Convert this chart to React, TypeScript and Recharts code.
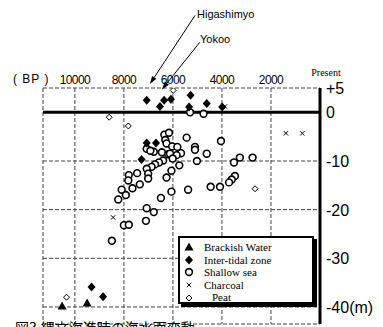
import { ScatterChart, Scatter, XAxis, YAxis, CartesianGrid, ReferenceLine, Legend } from 'recharts';

// years BP (x) and sea level in metres (y)
const ageTicks = [10000, 8000, 6000, 4000, 2000, 0];
const levelTicks = [5, 0, -10, -20, -30, -40];

const seriesNames = ['Brackish Water', 'Inter-tidal zone', 'Shallow sea', 'Charcoal', 'Peat'];

const brackishAge = [10520, 9500];
const brackishLevel = [-39.8, -39.2];

const tidalAge = [7070, 6360, 6080, 6530, 5280, 5340, 4620, 3990, 7070, 6690, 7280, 9320, 8850];
const tidalLevel = [2.5, 2.5, 2.7, 1.2, 3.5, 1.1, 1.8, 1.1, -6.3, -6.3, -9.7, -35.9, -37.9];

const shallowAge = [
  5300, 4750, 6350, 6160, 6310, 6260, 5440, 4040, 7070, 6780, 6450, 6030, 5820, 5670, 6190,
  5850, 5100, 5100, 4620, 5020, 5740, 6060, 6260, 6060, 5380, 6490, 6400, 6570, 6730, 6870,
  7070, 7010, 7010, 7460, 7800, 7820, 7350, 7650, 8090, 7920, 8230, 7070, 6780, 7100, 8000,
  7800, 8490, 3510, 3270, 2750, 3470, 3600, 3710, 4080, 4460, 6920, 6120, 6010,
];
const shallowLevel = [
  0, -0.3, -4.6, -4.2, -5.7, -6.4, -5.2, -5.9, -7.5, -8.1, -8.2, -7.0, -7.1, -8.4, -8.6,
  -8.8, -7.1, -7.7, -8.5, -10.0, -10.9, -12.0, -13.4, -16.3, -15.9, -17.6, -9.9, -10.3, -10.7, -11.2,
  -11.6, -12.6, -13.6, -12.5, -12.9, -14.0, -14.8, -15.6, -15.9, -17.0, -17.9, -19.7, -20.5, -22.3, -23.2,
  -23.1, -26.4, -10.3, -9.3, -9.3, -13.1, -13.8, -14.4, -15.3, -15.3, -7.9, -8.5, -9.5,
];

const charcoalAge = [3880, 1390, 720, 8440];
const charcoalLevel = [1.2, -4.3, -4.3, -21.6];

const peatAge = [10340, 8600, 7820, 2650, 5990];
const peatLevel = [-38.0, -1.0, -2.8, -15.7, 4.5];

// annotation arrows: [start, tip]
const higashimyoArrow = [{ x: 5100, y: 19.9 }, { x: 6940, y: 5.8 }];
const yokooArrow = [{ x: 4900, y: 14.4 }, { x: 6450, y: 4.7 }];

const toPoints = (ages: number[], levels: number[]) => ages.map((a, i) => ({ age: a, level: levels[i] }));

const brackish = toPoints(brackishAge, brackishLevel);
const tidal = toPoints(tidalAge, tidalLevel);
const shallow = toPoints(shallowAge, shallowLevel);
const charcoal = toPoints(charcoalAge, charcoalLevel);
const peat = toPoints(peatAge, peatLevel);

const drawMark = (kind: string, cx: number, cy: number) => {
  if (kind === 'triangle')
    return <polygon points={`${cx},${cy - 4.5} ${cx + 4.5},${cy + 3.5} ${cx - 4.5},${cy + 3.5}`} fill='#000' />;
  if (kind === 'diamond')
    return <polygon points={`${cx},${cy - 4.5} ${cx + 4},${cy} ${cx},${cy + 4.5} ${cx - 4},${cy}`} fill='#000' />;
  if (kind === 'circle') return <circle cx={cx} cy={cy} r={3.4} fill='#fff' stroke='#000' strokeWidth={1.6} />;
  if (kind === 'cross')
    return (
      <g stroke='#000' strokeWidth={1}>
        <line x1={cx - 2.2} y1={cy - 2.2} x2={cx + 2.2} y2={cy + 2.2} />
        <line x1={cx - 2.2} y1={cy + 2.2} x2={cx + 2.2} y2={cy - 2.2} />
      </g>
    );
  return (
    <polygon
      points={`${cx},${cy - 3} ${cx + 3},${cy} ${cx},${cy + 3} ${cx - 3},${cy}`}
      fill='#fff'
      stroke='#000'
      strokeWidth={1}
    />
  );
};

const markKinds = ['triangle', 'diamond', 'circle', 'cross', 'peat'];

const Arrow = (props: any) => {
  const { x1, y1, x2, y2 } = props;
  const ang = Math.atan2(y2 - y1, x2 - x1);
  const len = 8;
  const half = 2.6;
  const bx = x2 - len * Math.cos(ang);
  const by = y2 - len * Math.sin(ang);
  const px = -Math.sin(ang) * half;
  const py = Math.cos(ang) * half;
  return (
    <g>
      <line x1={x1} y1={y1} x2={bx} y2={by} stroke='#000' strokeWidth={1} />
      <polygon points={`${x2},${y2} ${bx + px},${by + py} ${bx - px},${by - py}`} fill='#000' />
    </g>
  );
};

const AgeTick = ({ x, y, payload }: any) => {
  if (payload.value === 0) {
    return (
      <text x={x + 6} y={y - 4} fontSize={10} fontFamily='Liberation Serif' textAnchor='middle' fill='#000'>
        Present
      </text>
    );
  }
  return (
    <text x={x} y={y + 4} fontSize={12} fontFamily='Liberation Sans' textAnchor='middle' fill='#000' letterSpacing={-0.6}>
      {payload.value}
    </text>
  );
};

const LevelTick = ({ x, y, payload }: any) => {
  const v = payload.value;
  const label = v > 0 ? `+${v}` : v === -40 ? '-40(m)' : `${v}`;
  return (
    <text x={x - 2} y={y + 6} fontSize={16} fontFamily='Liberation Sans' textAnchor='start' fill='#000'>
      {label}
    </text>
  );
};

const LegendBox = () => (
  <div
    style={{
      border: '2px solid #000',
      boxShadow: '3px 3px 0 #000',
      background: '#fff',
      width: 136,
      height: 68,
      boxSizing: 'border-box',
      padding: '3px 0 0 4px',
      fontFamily: 'Liberation Serif',
      fontSize: 11,
      lineHeight: '12.6px',
      color: '#000',
    }}
  >
    {seriesNames.map((name, i) => (
      <div key={name} style={{ display: 'flex', alignItems: 'center' }}>
        <svg width={10} height={10} style={{ marginRight: name === 'Peat' ? 18 : 10 }}>
          {drawMark(markKinds[i], 5, 5)}
        </svg>
        <span>{name}</span>
      </div>
    ))}
  </div>
);

export default function App() {
  return (
    <div style={{ position: 'absolute', left: 0, top: 0, width: 383, height: 327, overflow: 'hidden', background: '#fff' }}>
      <ScatterChart width={383} height={327} margin={{ top: 58, right: 0, left: 43, bottom: 3 }}>
        <CartesianGrid stroke='#444' strokeDasharray='4 2' strokeWidth={1} />
        <XAxis
          xAxisId={0}
          type='number'
          dataKey='age'
          orientation='top'
          reversed
          domain={[0, 11300]}
          ticks={ageTicks}
          height={30}
          axisLine={false}
          tickLine={false}
          tick={<AgeTick />}
        />
        <YAxis
          type='number'
          dataKey='level'
          orientation='right'
          domain={[-43.5, 5]}
          ticks={levelTicks}
          width={63}
          axisLine={{ stroke: '#000', strokeWidth: 3 }}
          tickLine={false}
          tick={<LevelTick />}
          allowDataOverflow
        />
        <ReferenceLine y={0} stroke='#000' strokeWidth={3} />
        <ReferenceLine segment={higashimyoArrow} ifOverflow='visible' shape={<Arrow />} />
        <ReferenceLine segment={yokooArrow} ifOverflow='visible' shape={<Arrow />} />
        <Scatter name={seriesNames[2]} data={shallow} isAnimationActive={false} shape={(p: any) => drawMark('circle', p.cx, p.cy)} />
        <Scatter name={seriesNames[1]} data={tidal} isAnimationActive={false} shape={(p: any) => drawMark('diamond', p.cx, p.cy)} />
        <Scatter name={seriesNames[0]} data={brackish} isAnimationActive={false} shape={(p: any) => drawMark('triangle', p.cx, p.cy)} />
        <Scatter name={seriesNames[3]} data={charcoal} isAnimationActive={false} shape={(p: any) => drawMark('cross', p.cx, p.cy)} />
        <Scatter name={seriesNames[4]} data={peat} isAnimationActive={false} shape={(p: any) => drawMark('peat', p.cx, p.cy)} />
        <Legend
          layout='vertical'
          align='center'
          verticalAlign='middle'
          content={<LegendBox />}
          wrapperStyle={{ position: 'absolute', left: 178, top: 236, width: 140, height: 72 }}
        />
      </ScatterChart>
      <div style={{ position: 'absolute', left: 13, top: 72, fontFamily: 'Liberation Sans', fontSize: 12, letterSpacing: 1 }}>
        ( ΒP )
      </div>
      <div style={{ position: 'absolute', left: 197, top: 8, fontFamily: 'Liberation Sans', fontSize: 11 }}>Higashimyo</div>
      <div style={{ position: 'absolute', left: 200, top: 33, fontFamily: 'Liberation Sans', fontSize: 11 }}>Yokoo</div>
      <div style={{ position: 'absolute', left: 15, top: 317, fontFamily: 'Noto Sans CJK JP', fontSize: 14 }}>
        図3.縄文海進時の海水面変動
      </div>
    </div>
  );
}
